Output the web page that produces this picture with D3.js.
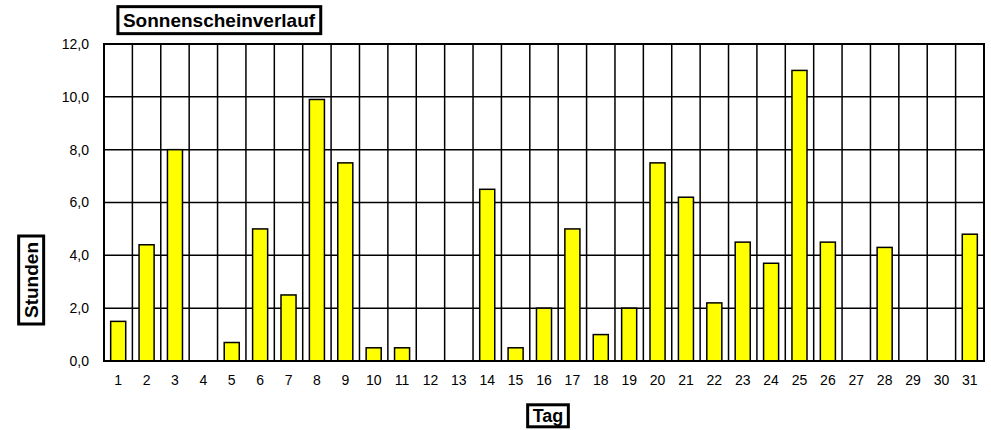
<!DOCTYPE html>
<html>
<head>
<meta charset="utf-8">
<script src="https://cdn.jsdelivr.net/npm/d3@7"></script>
<style>
  body { margin: 0; background: #fff; }
  svg { display: block; font-family: 'Liberation Sans', Arial, sans-serif; }
</style>
</head>
<body>
<svg id="chart" width="991" height="430"></svg>
<script>
// DATA
const days = d3.range(1, 32).map(String);
const sunHours = [1.5, 4.4, 8.0, 0, 0.7, 5.0, 2.5, 9.9, 7.5, 0.5, 0.5, 0, 0, 6.5, 0.5,
  2.0, 5.0, 1.0, 2.0, 7.5, 6.2, 2.2, 4.5, 3.7, 11.0, 4.5, 0, 4.3, 0, 0, 4.8];
const yTicks = [0, 2, 4, 6, 8, 10, 12];
const titleText = 'Sonnenscheinverlauf';
const yLabel = 'Stunden';
const xLabel = 'Tag';

// SETUP
const svg = d3.select('#chart'),
  margin = { top: 44, right: 7, bottom: 69, left: 104 },
  width = 991 - margin.left - margin.right,
  height = 430 - margin.top - margin.bottom;

const x = d3.scaleBand().domain(days).range([0, width]).padding(0);
const y = d3.scaleLinear().domain([0, 12]).range([height, 0]);
const fmt = d => d.toFixed(1).replace('.', ',');

const g = svg.append('g')
  .attr('transform', 'translate(' + margin.left + ',' + margin.top + ')');

// GRID
g.append('g').selectAll('line')
  .data(yTicks.slice(1, -1))
  .enter().append('line')
  .attr('x1', 0).attr('x2', width)
  .attr('y1', d => y(d)).attr('y2', d => y(d))
  .attr('stroke', '#000').attr('stroke-width', 1.5);

g.append('g').selectAll('line')
  .data(days.slice(1))
  .enter().append('line')
  .attr('x1', d => x(d)).attr('x2', d => x(d))
  .attr('y1', 0).attr('y2', height)
  .attr('stroke', '#000').attr('stroke-width', 1.5);

// BARS
const barW = x.bandwidth() * 0.53;
g.append('g').selectAll('rect')
  .data(sunHours.map((v, i) => ({ day: days[i], v: v })).filter(d => d.v > 0))
  .enter().append('rect')
  .attr('x', d => x(d.day) + (x.bandwidth() - barW) / 2)
  .attr('y', d => y(d.v))
  .attr('width', barW)
  .attr('height', d => y(0) - y(d.v))
  .attr('fill', '#ffff00')
  .attr('stroke', '#000')
  .attr('stroke-width', 1.5);

// FRAME
g.append('rect')
  .attr('width', width).attr('height', height)
  .attr('fill', 'none').attr('stroke', '#000').attr('stroke-width', 2);

// AXES
const yAxis = g.append('g')
  .call(d3.axisLeft(y).tickValues(yTicks).tickFormat(fmt).tickSize(0).tickPadding(15));
yAxis.select('.domain').remove();
yAxis.selectAll('text').attr('font-size', 14).attr('fill', '#000')
  .attr('font-family', "'Liberation Sans', Arial, sans-serif");

const xAxis = g.append('g')
  .attr('transform', 'translate(0,' + height + ')')
  .call(d3.axisBottom(x).tickSize(0).tickPadding(14));
xAxis.select('.domain').remove();
xAxis.selectAll('text').attr('font-size', 14).attr('fill', '#000')
  .attr('font-family', "'Liberation Sans', Arial, sans-serif");

// LABEL BOXES
function boxLabel(cx, cy, text, size, padX, padY, rotate) {
  const lg = svg.append('g')
    .attr('transform', 'translate(' + cx + ',' + cy + ')' + (rotate ? ' rotate(-90)' : ''));
  const t = lg.append('text')
    .attr('text-anchor', 'middle').attr('dy', '0.35em')
    .attr('font-size', size).attr('font-weight', 'bold')
    .text(text);
  const bb = t.node().getBBox();
  lg.insert('rect', 'text')
    .attr('x', bb.x - padX).attr('y', bb.y - padY)
    .attr('width', bb.width + 2 * padX).attr('height', bb.height + 2 * padY)
    .attr('fill', '#fff').attr('stroke', '#000').attr('stroke-width', 3);
}

boxLabel(219, 20, titleText, 19, 5, 3, false);
boxLabel(31, 280, yLabel, 19, 6, 2, true);
boxLabel(548, 415.5, xLabel, 18, 5, 1, false);
</script>
</body>
</html>
